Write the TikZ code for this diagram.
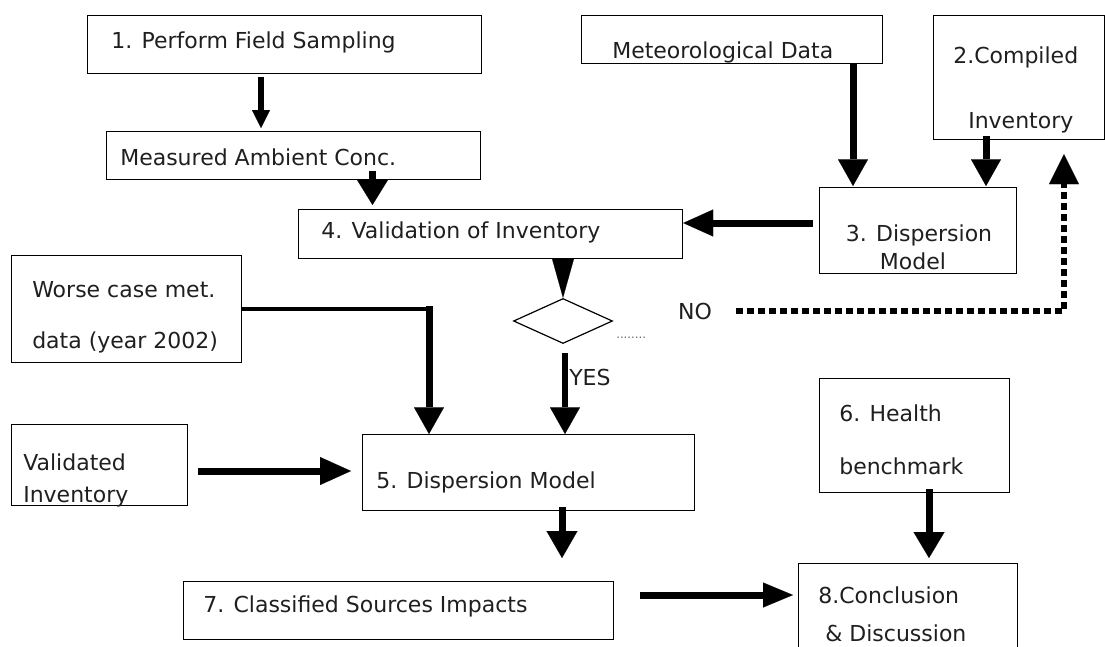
\documentclass[tikz,border=0pt]{standalone}
\usepackage{fontspec}
\setmainfont{DejaVu Sans}
\usetikzlibrary{arrows.meta,calc,shapes.geometric}
\begin{document}
\begin{tikzpicture}[x=0.75pt,y=-0.75pt,
  bx/.style 2 args={draw=black, line width=0.9pt, anchor=north west, inner sep=0pt,
     minimum width=#1*0.75pt, minimum height=#2*0.75pt},
  txt/.style={font=\fontsize{16.5pt}{19pt}\selectfont, inner sep=0pt, anchor=west, text=black!88},
  flow/.style={line width=5.25pt, -{Triangle[length=20pt,width=22.5pt,line width=0.1pt]}},
  noflow/.style={line width=4.5pt, dash pattern=on 5.25pt off 3pt,
     -{Triangle[length=22.5pt,width=22.5pt,line width=0.1pt]}},
  feedline/.style={line width=3pt}
]
\useasboundingbox (0,0) rectangle (1105,646);

% boxes
\node[bx={394}{58}]  (b1)    at (87,15)  {};
\node[bx={374}{48}]  (meas)  at (106,131) {};
\node[bx={384}{49}]  (b4)    at (298,209) {};
\node[bx={301}{48}]  (met)   at (581,15) {};
\node[bx={171}{124}] (b2)    at (933,15) {};
\node[bx={197}{86}]  (b3)    at (819,187) {};
\node[bx={230}{107}] (worse) at (11,255) {};
\node[bx={176}{81}]  (val)   at (11,424) {};
\node[bx={332}{76}]  (b5)    at (362,434) {};
\node[bx={190}{114}] (b6)    at (819,378) {};
\node[bx={430}{58}]  (b7)    at (183,581) {};
\node[bx={219}{100}] (b8)    at (798,563) {};
\node[draw=black, line width=0.9pt, diamond, aspect=2.2, inner sep=0pt,
      minimum width=99*0.75pt, minimum height=45*0.75pt] (dia) at (563,321) {};

% texts
\node[txt] (t1)  at (111,42)  {1. Perform Field Sampling};
\node[txt] (tm)  at (120,157) {Measured Ambient Conc.};
\node[txt] (t4)  at (321,232) {4. Validation of Inventory};
\node[txt] (tmet) at (612,52) {Meteorological Data};
\node[txt] (t2a) at (953,57)  {2.Compiled};
\node[txt] (t2b) at (968,123) {Inventory};
\node[txt, anchor=center] (t3a) at (919,235) {3. Dispersion};
\node[txt, anchor=center] (t3b) at (913,261) {Model};
\node[txt] (twa) at (32,290)  {Worse case met.};
\node[txt] (twb) at (32,342)  {data (year 2002)};
\node[txt] (tva) at (23,462)  {Validated};
\node[txt] (tvb) at (23,497)  {Inventory};
\node[txt] (t5)  at (376,482) {5. Dispersion Model};
\node[txt] (t6a) at (839,413) {6. Health};
\node[txt] (t6b) at (839,466) {benchmark};
\node[txt] (t7)  at (203,606) {7. Classified Sources Impacts};
\node[txt] (t8a) at (818,595) {8.Conclusion};
\node[txt] (t8b) at (825,633) {\& Discussion};
\node[txt] (yes) at (569,377) {YES};
\node[txt, anchor=center] (no) at (695,311) {NO};
\node[inner sep=0pt, anchor=base west, font=\fontsize{8.8pt}{10pt}\selectfont, text=black!60] (dots) at (616,338) {........};

% x / y guide coordinates
\coordinate (xa) at (261,0);
\coordinate (xb) at (372.5,0);
\coordinate (xc) at (853,0);
\coordinate (xd) at (986,0);
\coordinate (ya) at (0,223);
\coordinate (xn) at (1064,0);
\coordinate (wc) at (429,308);
\coordinate (xy) at (565,0);
\coordinate (yv) at (0,471);
\coordinate (xf) at (562,0);
\coordinate (xg) at (929,0);
\coordinate (yh) at (0,595);

% connectors
\draw[flow, line width=4.5pt, -{Triangle[length=13.5pt,width=13.5pt,line width=0.1pt]}]
  ($(b1.south -| xa)+(0,3)$) -- ($(meas.north -| xa)+(0,-3)$);
\draw[flow, -{Triangle[length=19.5pt,width=24pt,line width=0.1pt]}]
  ($(meas.south -| xb)+(0,-9)$) -- ($(b4.north -| xb)+(0,-4)$);
\draw[flow] (met.south -| xc) -- ($(b3.north -| xc)+(0,-1)$);
\draw[flow] ($(b2.south -| xd)+(0,-4)$) -- ($(b3.north -| xd)+(0,-1)$);
\draw[flow, -{Triangle[length=22.5pt,width=20.25pt,line width=0.1pt]}]
  ($(b3.west |- ya)+(-6,0)$) -- (b4.east |- ya);
\draw[line width=0.5pt, -{Triangle[length=29.5pt,width=16.5pt,line width=0.1pt]}]
  (b4.south -| dia.north) -- (dia.north);
\draw[noflow] ($(no.east)+(24,0)$) -| ($(b2.south -| xn)+(0,14)$);
\draw[feedline] (worse.east) -- ($(worse.east -| wc)+(4,0)$);
\draw[flow] ($(wc)+(0,-2)$) -- (b5.north -| wc);
\draw[flow, line width=4.5pt] ($(dia.south -| xy)+(0,9)$) -- (b5.north -| xy);
\draw[flow, -{Triangle[length=23.25pt,width=21pt,line width=0.1pt]}]
  ($(val.east |- yv)+(10,0)$) -- ($(b5.west |- yv)+(-11,0)$);
\draw[flow, -{Triangle[length=20.25pt,width=23.25pt,line width=0.1pt]}]
  ($(b5.south -| xf)+(0,-4)$) -- ($(b7.north -| xf)+(0,-23)$);
\draw[flow, -{Triangle[length=19.5pt,width=23.25pt,line width=0.1pt]}]
  ($(b6.south -| xg)+(0,-4)$) -- ($(b8.north -| xg)+(0,-5)$);
\draw[flow, -{Triangle[length=22.5pt,width=18.75pt,line width=0.1pt]}]
  ($(b7.east |- yh)+(26,0)$) -- ($(b8.west |- yh)+(-5,0)$);
\end{tikzpicture}
\end{document}
